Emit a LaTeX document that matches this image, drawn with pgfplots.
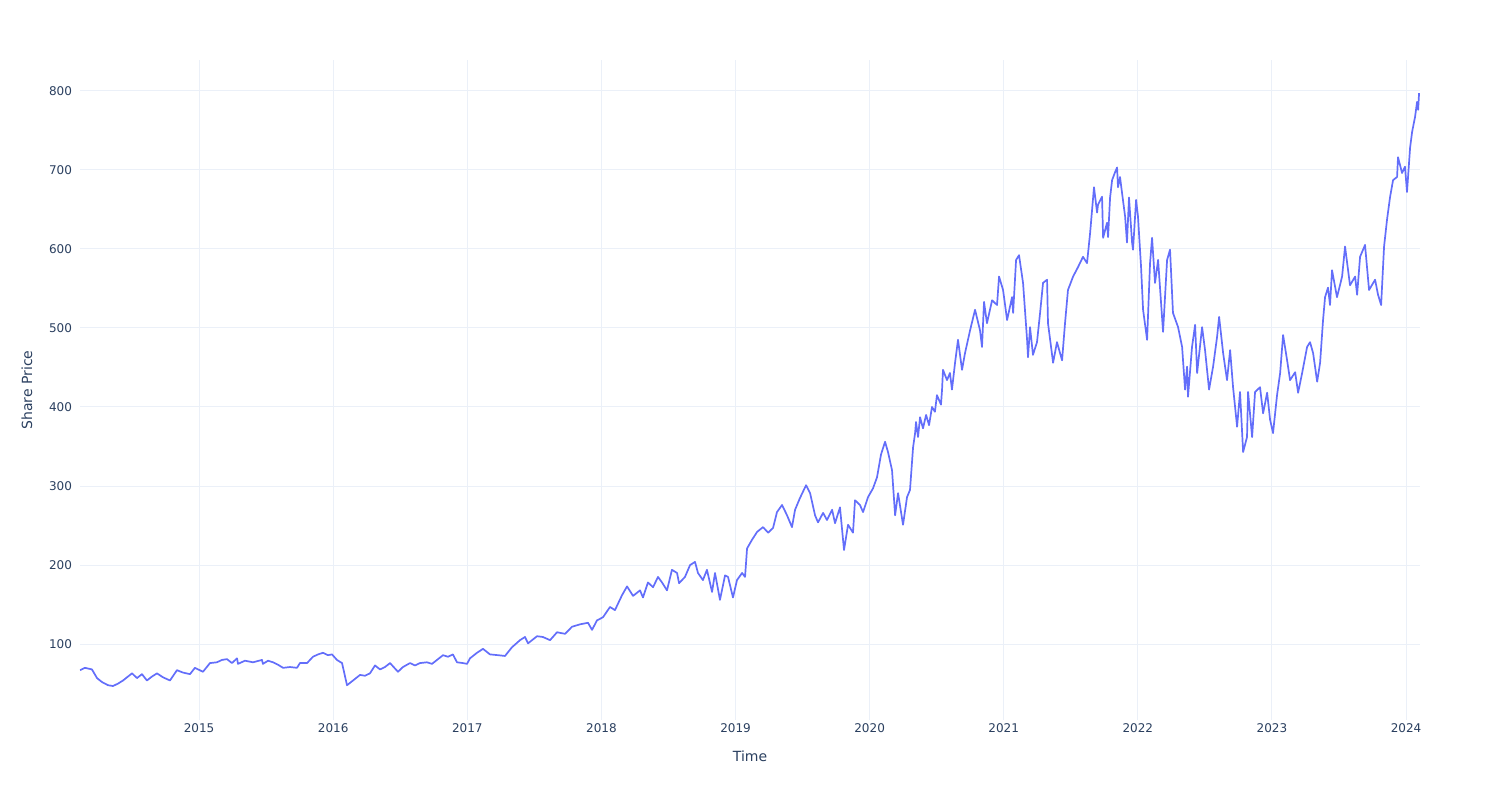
\documentclass[border=0pt]{standalone}
\usepackage{fontspec}
\setmainfont{DejaVu Sans}
\usepackage{pgfplots}
\pgfplotsset{compat=1.18}
\definecolor{plotline}{HTML}{636EFA}
\definecolor{gridc}{HTML}{EBF0F8}
\definecolor{txt}{HTML}{2A3F5F}
\begin{document}
\begin{tikzpicture}
\begin{axis}[
  scale only axis,
  width=670pt, height=330pt,
  xmin=2014.112, xmax=2024.104,
  ymin=4, ymax=839,
  xtick={2015,2016,2017,2018,2019,2020,2021,2022,2023,2024},
  ytick={100,200,300,400,500,600,700,800},
  /pgf/number format/1000 sep={},
  /pgf/number format/assume math mode=true,
  xmajorgrids, ymajorgrids,
  grid style={gridc, line width=0.5pt},
  axis line style={draw=none},
  tick style={draw=none},
  ticklabel style={font=\fontsize{6}{7}\selectfont, text=txt},
  xticklabel style={anchor=center, yshift=-4pt},
  yticklabel style={anchor=east, xshift=-0.5pt},
  xlabel={Time}, ylabel={Share Price},
  every axis x label/.style={at={(axis description cs:0.5,0)}, anchor=center, yshift=-18pt, font=\fontsize{7}{8}\selectfont, text=txt},
  every axis y label/.style={at={(axis description cs:0,0.5)}, anchor=center, xshift=-26.5pt, rotate=90, font=\fontsize{7}{8}\selectfont, text=txt},
]
\addplot[plotline, line width=0.85pt, line join=round, no markers] coordinates {
(2014.112,67) (2014.149,70) (2014.201,68) (2014.239,57) (2014.276,52) (2014.321,48) (2014.358,47) (2014.395,50) (2014.433,54) (2014.470,59)
(2014.500,63) (2014.537,57) (2014.574,62) (2014.611,54) (2014.649,59) (2014.686,63) (2014.731,58) (2014.783,54) (2014.835,67) (2014.880,64)
(2014.932,62) (2014.969,70) (2015.029,65) (2015.081,76) (2015.133,77) (2015.171,80) (2015.208,81) (2015.245,76) (2015.283,82) (2015.290,75)
(2015.342,79) (2015.402,77) (2015.469,80) (2015.476,75) (2015.514,79) (2015.551,77) (2015.588,74) (2015.626,70) (2015.678,71) (2015.730,70)
(2015.752,76) (2015.805,76) (2015.849,84) (2015.887,87) (2015.924,89) (2015.961,86) (2015.991,87) (2016.028,80) (2016.066,76) (2016.103,48)
(2016.148,54) (2016.200,61) (2016.237,60) (2016.274,63) (2016.312,73) (2016.349,68) (2016.386,71) (2016.424,76) (2016.483,65) (2016.520,71)
(2016.573,76) (2016.610,73) (2016.647,76) (2016.699,77) (2016.737,75) (2016.774,80) (2016.819,86) (2016.856,84) (2016.893,87) (2016.923,77)
(2016.968,76) (2016.998,75) (2017.020,82) (2017.072,89) (2017.117,94) (2017.169,87) (2017.229,86) (2017.281,85) (2017.333,96) (2017.393,105)
(2017.430,109) (2017.453,101) (2017.520,110) (2017.564,109) (2017.617,105) (2017.669,115) (2017.729,113) (2017.781,122) (2017.840,125) (2017.900,127)
(2017.930,118) (2017.967,130) (2018.012,134) (2018.064,147) (2018.101,143) (2018.154,162) (2018.191,173) (2018.236,161) (2018.288,168) (2018.310,159)
(2018.347,178) (2018.385,172) (2018.422,185) (2018.452,178) (2018.489,168) (2018.526,194) (2018.564,190) (2018.579,177) (2018.623,185) (2018.661,200)
(2018.698,204) (2018.720,190) (2018.757,181) (2018.787,194) (2018.825,166) (2018.847,190) (2018.884,156) (2018.922,187) (2018.944,185) (2018.981,159)
(2019.011,181) (2019.049,190) (2019.071,185) (2019.086,221) (2019.123,232) (2019.161,242) (2019.205,248) (2019.243,241) (2019.280,247) (2019.309,267)
(2019.347,276) (2019.384,263) (2019.421,248) (2019.444,270) (2019.481,285) (2019.526,301) (2019.556,291) (2019.593,263) (2019.615,254) (2019.653,266)
(2019.682,257) (2019.720,270) (2019.742,253) (2019.779,273) (2019.809,219) (2019.839,251) (2019.876,241) (2019.891,282) (2019.928,276) (2019.951,267)
(2019.988,286) (2020.025,297) (2020.055,311) (2020.085,340) (2020.115,356) (2020.137,343) (2020.167,320) (2020.190,263) (2020.212,291) (2020.249,251)
(2020.279,286) (2020.301,295) (2020.324,349) (2020.339,367) (2020.346,381) (2020.361,362) (2020.376,387) (2020.398,373) (2020.421,390) (2020.443,377)
(2020.465,400) (2020.487,394) (2020.502,415) (2020.517,409) (2020.532,403) (2020.540,422) (2020.547,447) (2020.577,434) (2020.599,443) (2020.614,422)
(2020.637,456) (2020.659,485) (2020.689,447) (2020.711,468) (2020.749,497) (2020.786,523) (2020.823,497) (2020.838,476) (2020.853,533) (2020.875,506)
(2020.913,535) (2020.950,529) (2020.965,565) (2020.995,548) (2021.025,510) (2021.062,539) (2021.070,519) (2021.092,586) (2021.114,592) (2021.144,557)
(2021.174,485) (2021.181,463) (2021.196,501) (2021.218,466) (2021.248,482) (2021.271,519) (2021.293,557) (2021.323,561) (2021.330,506) (2021.368,456)
(2021.397,482) (2021.435,459) (2021.457,506) (2021.479,548) (2021.517,565) (2021.554,577) (2021.591,590) (2021.621,582) (2021.644,620) (2021.673,678)
(2021.696,646) (2021.703,656) (2021.733,666) (2021.741,614) (2021.770,633) (2021.778,615) (2021.793,665) (2021.808,687) (2021.830,697) (2021.845,703)
(2021.852,678) (2021.867,691) (2021.882,671) (2021.905,641) (2021.919,608) (2021.934,665) (2021.957,608) (2021.964,599) (2021.987,662) (2022.001,641)
(2022.024,577) (2022.039,523) (2022.069,485)
(2022.091,582) (2022.106,614) (2022.128,557) (2022.151,586) (2022.188,495) (2022.218,586) (2022.240,599) (2022.262,519) (2022.300,501) (2022.330,476)
(2022.352,422) (2022.367,451) (2022.374,413) (2022.404,476) (2022.427,504) (2022.442,443) (2022.479,501) (2022.501,472) (2022.531,422) (2022.561,451)
(2022.591,489) (2022.606,514) (2022.636,468) (2022.665,434) (2022.688,472) (2022.710,425) (2022.740,375) (2022.762,419) (2022.785,343) (2022.814,362)
(2022.822,419) (2022.852,362) (2022.874,419) (2022.911,425) (2022.934,392) (2022.964,418) (2022.986,384) (2023.008,367) (2023.038,415) (2023.061,443)
(2023.083,491) (2023.113,459) (2023.135,434) (2023.173,444) (2023.195,418) (2023.225,443) (2023.262,476) (2023.284,482) (2023.307,468) (2023.337,432)
(2023.359,456) (2023.381,510) (2023.396,539) (2023.418,551) (2023.433,529) (2023.448,573) (2023.485,539) (2023.523,565) (2023.545,603) (2023.582,554)
(2023.620,565) (2023.635,542) (2023.657,590) (2023.694,605) (2023.724,548) (2023.769,561) (2023.791,542) (2023.814,529) (2023.836,603) (2023.858,637)
(2023.881,666) (2023.903,687) (2023.933,691) (2023.940,716) (2023.970,696) (2023.992,704) (2024.007,672) (2024.030,728) (2024.045,748) (2024.067,767)
(2024.082,786) (2024.090,776) (2024.097,797)
};
\end{axis}
\path ([shift={(-40pt,-40pt)}]current axis.south west) rectangle ([shift={(40pt,30pt)}]current axis.north east);
\end{tikzpicture}
\end{document}
